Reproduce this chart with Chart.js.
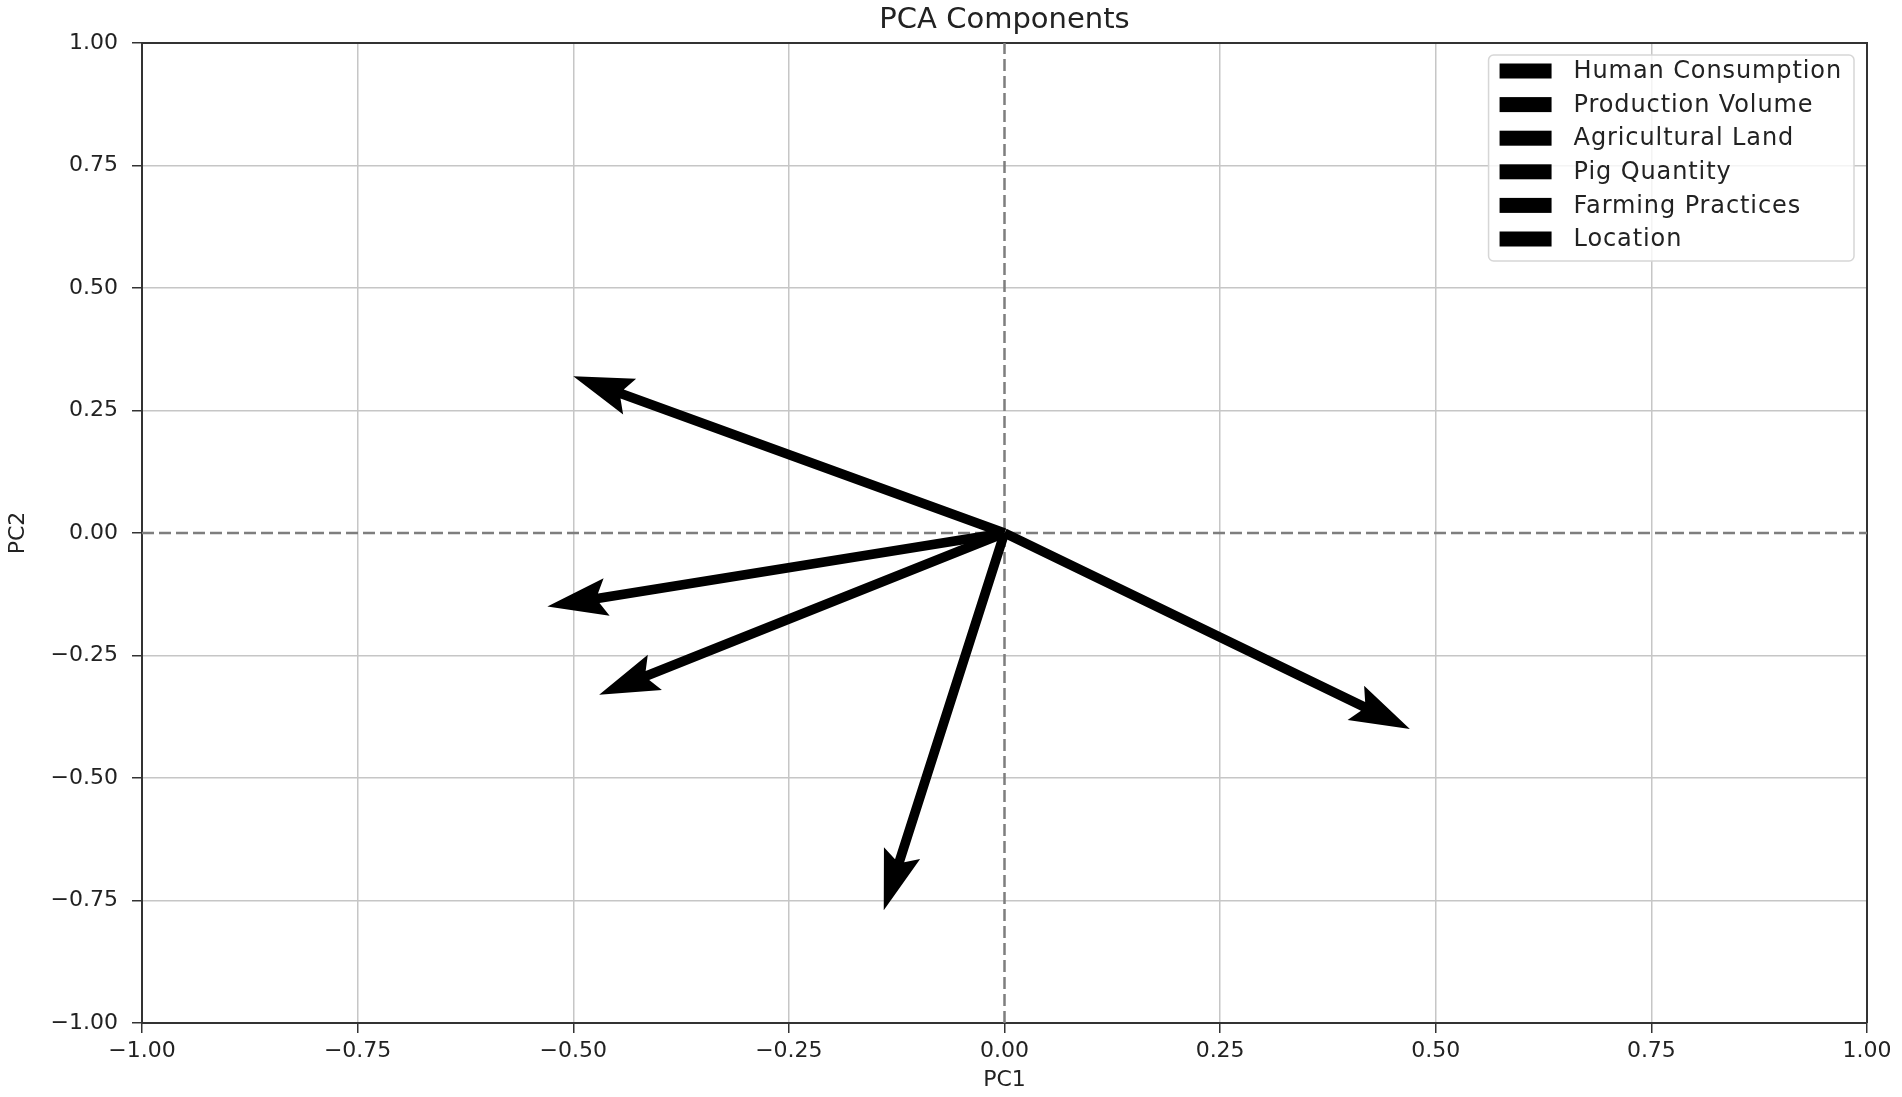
<!DOCTYPE html>
<html>
<head>
<meta charset="utf-8">
<script src="https://cdn.jsdelivr.net/npm/chart.js@4.4.1/dist/chart.umd.min.js"></script>
<style>
  html, body { margin: 0; padding: 0; background: #fff; }
</style>
</head>
<body>
<canvas id="myChart" width="1902" height="1097"></canvas>
<script>
"use strict";

// feature names (legend order)
const features = ['Human Consumption', 'Production Volume', 'Agricultural Land', 'Pig Quantity', 'Farming Practices', 'Location'];
// loadings (arrow tips)
const pc1 = [-0.50, -0.53, -0.47, -0.14, 0.47, 0.0];
const pc2 = [0.32, -0.15, -0.33, -0.77, -0.40, 0.0];
const axisTicks = [-1, -0.75, -0.5, -0.25, 0, 0.25, 0.5, 0.75, 1];

const FONT = '"DejaVu Sans", "Liberation Sans", sans-serif';
Chart.defaults.font.family = FONT;
Chart.defaults.color = '#222';

const fmt = v => (v < -1e-9 ? '\u2212' : '') + Math.abs(v).toFixed(2);

const arrowSets = features.map((name, i) => ({
  label: name,
  arrow: true,
  data: [{x: 0, y: 0}, {x: pc1[i], y: pc2[i]}],
  showLine: false,
  pointRadius: 0,
  pointHoverRadius: 0,
  backgroundColor: '#000',
  borderColor: '#000'
}));

const zeroLine = pts => ({
  label: '',
  data: pts,
  showLine: true,
  borderColor: '#7e7e7e',
  borderWidth: 2.5,
  borderDash: [12, 5],
  pointRadius: 0,
  pointHoverRadius: 0,
  fill: false
});

// draws arrows from the positions the library computed for each dataset
const arrowPlugin = {
  id: 'arrows',
  afterDatasetsDraw(chart) {
    const ctx = chart.ctx;
    chart.data.datasets.forEach((ds, i) => {
      if (!ds.arrow) return;
      const meta = chart.getDatasetMeta(i);
      const a = meta.data[0], b = meta.data[1];
      const dx = b.x - a.x, dy = b.y - a.y;
      const len = Math.hypot(dx, dy);
      if (len < 1) return;
      const ux = dx / len, uy = dy / len;
      const px = -uy, py = ux;
      const sw = 4.8, hl = 60, hw = 19, join = 52;
      const bx = b.x - ux * hl, by = b.y - uy * hl;
      const jx = b.x - ux * join, jy = b.y - uy * join;
      ctx.save();
      ctx.fillStyle = '#000';
      ctx.beginPath();
      ctx.moveTo(a.x + px * sw, a.y + py * sw);
      ctx.lineTo(jx + px * sw, jy + py * sw);
      ctx.lineTo(bx + px * hw, by + py * hw);
      ctx.lineTo(b.x, b.y);
      ctx.lineTo(bx - px * hw, by - py * hw);
      ctx.lineTo(jx - px * sw, jy - py * sw);
      ctx.lineTo(a.x - px * sw, a.y - py * sw);
      ctx.closePath();
      ctx.fill();
      ctx.restore();
    });
  }
};

// top and right spines
const framePlugin = {
  id: 'frame',
  beforeDatasetsDraw(chart) {
    const {ctx, chartArea: ca} = chart;
    ctx.save();
    ctx.strokeStyle = '#333';
    ctx.lineWidth = 2;
    ctx.beginPath();
    ctx.moveTo(ca.left, ca.top);
    ctx.lineTo(ca.right, ca.top);
    ctx.lineTo(ca.right, ca.bottom);
    ctx.stroke();
    ctx.restore();
  }
};

// legend box inside the plot, upper right
const legendPlugin = {
  id: 'boxLegend',
  afterDraw(chart) {
    const {ctx, chartArea: ca} = chart;
    const items = chart.data.datasets.filter(d => d.arrow);
    ctx.save();
    ctx.font = '24px ' + FONT;
    if ('letterSpacing' in ctx) ctx.letterSpacing = '0.9px';
    const textW = Math.max(...items.map(d => ctx.measureText(d.label).width));
    const padL = 11, swW = 52, swH = 15, gap = 22, padR = 12;
    const rowH = 33.6, firstRow = 16, padB = 22;
    const w = padL + swW + gap + textW + padR;
    const h = firstRow + rowH * (items.length - 1) + padB;
    const right = ca.right - 13, top = ca.top + 12;
    const left = right - w;
    ctx.fillStyle = 'rgba(255,255,255,0.8)';
    ctx.strokeStyle = '#d6d6d6';
    ctx.lineWidth = 1.5;
    ctx.beginPath();
    ctx.roundRect(left, top, w, h, 5);
    ctx.fill();
    ctx.stroke();
    items.forEach((d, i) => {
      const cy = top + firstRow + i * rowH;
      ctx.fillStyle = '#000';
      ctx.fillRect(left + padL, cy - swH / 2, swW, swH);
      ctx.fillStyle = '#222';
      ctx.textBaseline = 'middle';
      ctx.textAlign = 'left';
      ctx.fillText(d.label, left + padL + swW + gap, cy + 1);
    });
    ctx.restore();
  }
};

const gridColor = c => (c.tick && Math.abs(c.tick.value) < 1e-9) ? 'rgba(0,0,0,0)' : '#c6c6c6';

const config = {
  type: 'scatter',
  data: {
    datasets: [
      zeroLine([{x: -1, y: 0}, {x: 1, y: 0}]),
      zeroLine([{x: 0, y: -1}, {x: 0, y: 1}]),
      ...arrowSets
    ]
  },
  options: {
    responsive: false,
    animation: false,
    events: [],
    layout: { padding: { left: 0, right: 35, top: 0, bottom: 0 } },
    plugins: {
      legend: { display: false },
      tooltip: { enabled: false },
      title: { display: false }
    },
    scales: {
      x: {
        type: 'linear',
        position: 'bottom',
        min: -1, max: 1,
        afterBuildTicks: s => { s.ticks = axisTicks.map(v => ({value: v})); },
        ticks: { callback: v => fmt(v), font: { size: 22 }, color: '#222', padding: 5, maxRotation: 0, autoSkip: false },
        grid: { color: gridColor, lineWidth: 1.5, tickLength: 10, tickColor: '#333', tickWidth: 1.5 },
        border: { display: true, color: '#333', width: 2 },
        title: { display: true, text: 'PC1', font: { size: 22 }, color: '#222', padding: { top: 0, bottom: 4 } },
        afterFit: s => { s.height = 74; }
      },
      top: {
        type: 'linear',
        position: 'top',
        display: true,
        min: 0, max: 1,
        ticks: { display: false },
        grid: { display: false, drawTicks: false },
        border: { display: false },
        title: { display: true, text: 'PCA Components', font: { size: 29 }, color: '#222', padding: { top: 3, bottom: 0 } },
        afterFit: s => { s.height = 43; }
      },
      y: {
        type: 'linear',
        position: 'left',
        min: -1, max: 1,
        afterBuildTicks: s => { s.ticks = axisTicks.map(v => ({value: v})); },
        ticks: { callback: v => fmt(v), font: { size: 22 }, color: '#222', padding: 14, autoSkip: false },
        grid: { color: gridColor, lineWidth: 1.5, tickLength: 10, tickColor: '#333', tickWidth: 1.5 },
        border: { display: true, color: '#333', width: 2 },
        title: { display: true, text: 'PC2', font: { size: 22 }, color: '#222', padding: { top: 5, bottom: 0 } },
        afterFit: s => { s.width = 142; }
      }
    }
  },
  plugins: [framePlugin, arrowPlugin, legendPlugin]
};

const myChart = new Chart(document.getElementById('myChart'), config);
</script>
</body>
</html>
